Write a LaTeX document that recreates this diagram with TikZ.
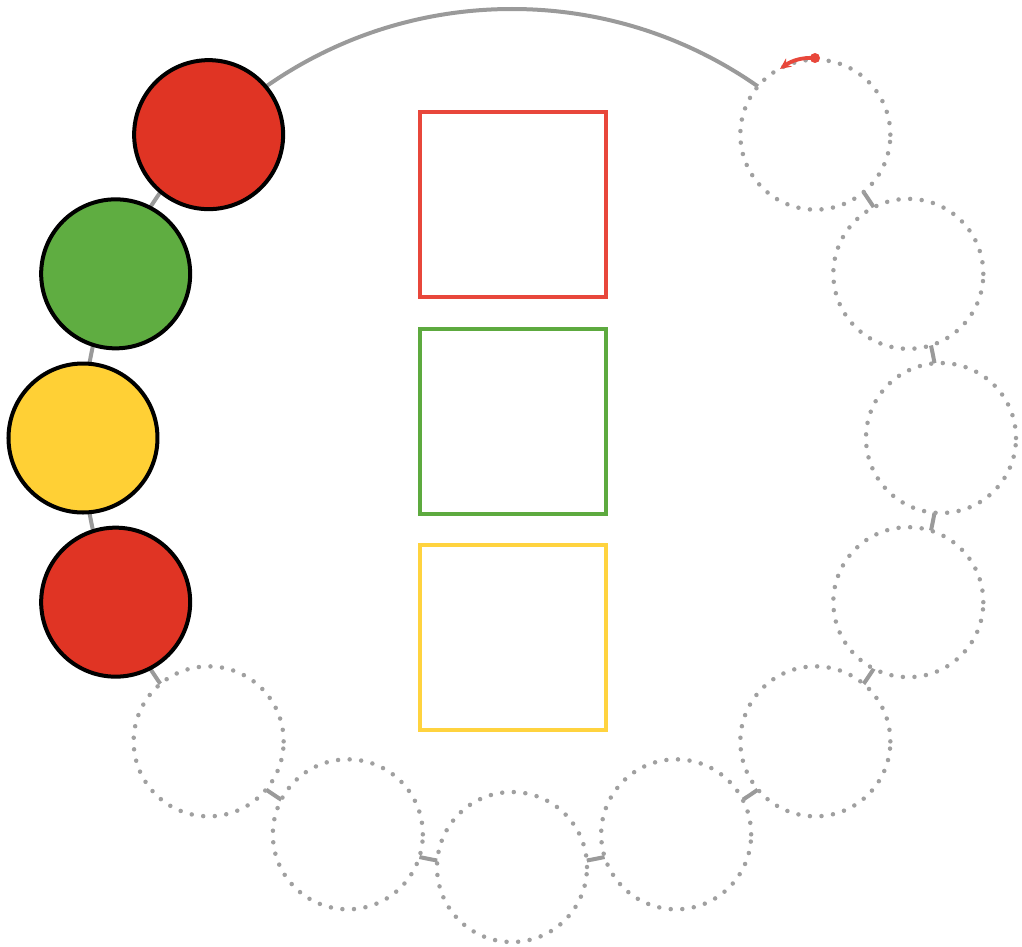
\documentclass[tikz,border=0pt]{standalone}
\usetikzlibrary{arrows.meta}
\definecolor{cred}{HTML}{E03424}
\definecolor{cgreen}{HTML}{5FAD41}
\definecolor{cyellow}{HTML}{FFD035}
\definecolor{sred}{HTML}{E8473B}
\definecolor{sgreen}{HTML}{5DAA3F}
\definecolor{syellow}{HTML}{FFD33F}
\definecolor{ring}{HTML}{9A9A9A}
\definecolor{dotg}{HTML}{A0A0A0}
\tikzset{
  ball/.style={circle, inner sep=0pt, minimum size=149pt, draw=black, line width=4pt},
  ghost/.style={circle, inner sep=0pt, minimum size=150pt, fill=white, draw=dotg, line width=4.5pt, line cap=round, dash pattern=on 0pt off 11.6pt},
  box/.style={rectangle, inner sep=0pt, minimum width=186pt, minimum height=185pt, line width=3.8pt, fill=none},
}
\begin{document}
\begin{tikzpicture}[x=1pt,y=1pt]
\useasboundingbox (-512,-508) rectangle (510,438);
\coordinate (ctr) at (0,0);
\draw[ring, line width=4pt] (ctr) circle[radius=429];
% filled balls
\node[ball, fill=cred]    (c135) at (135:429) {};
\node[ball, fill=cgreen]  (c157) at (157.5:429) {};
\node[ball, fill=cyellow] (c180) at (180:429) {};
\node[ball, fill=cred]    (c202) at (202.5:429) {};
% empty dotted positions
\foreach \a/\n in {225/c225, 247.5/c247, 270/c270, 292.5/c292, 315/c315, 337.5/c337, 0/c0, 22.5/c22, 45/c45}
  \node[ghost] (\n) at (\a:429) {};
% boxes
\node[box, draw=sred]    (bred)    at (1,233.5) {};
\node[box, draw=sgreen]  (bgreen)  at (1,16.5) {};
\node[box, draw=syellow] (byellow) at (1,-199.5) {};
% red arrow
\coordinate (as) at (303,380);
\coordinate (ae) at (268,369);
\fill[sred] (as) circle[radius=5];
\draw[sred, line width=3.8pt, -{Stealth[length=11pt,width=10pt]}] (as) .. controls (290,381) and (279,377) .. (ae);
\end{tikzpicture}
\end{document}
